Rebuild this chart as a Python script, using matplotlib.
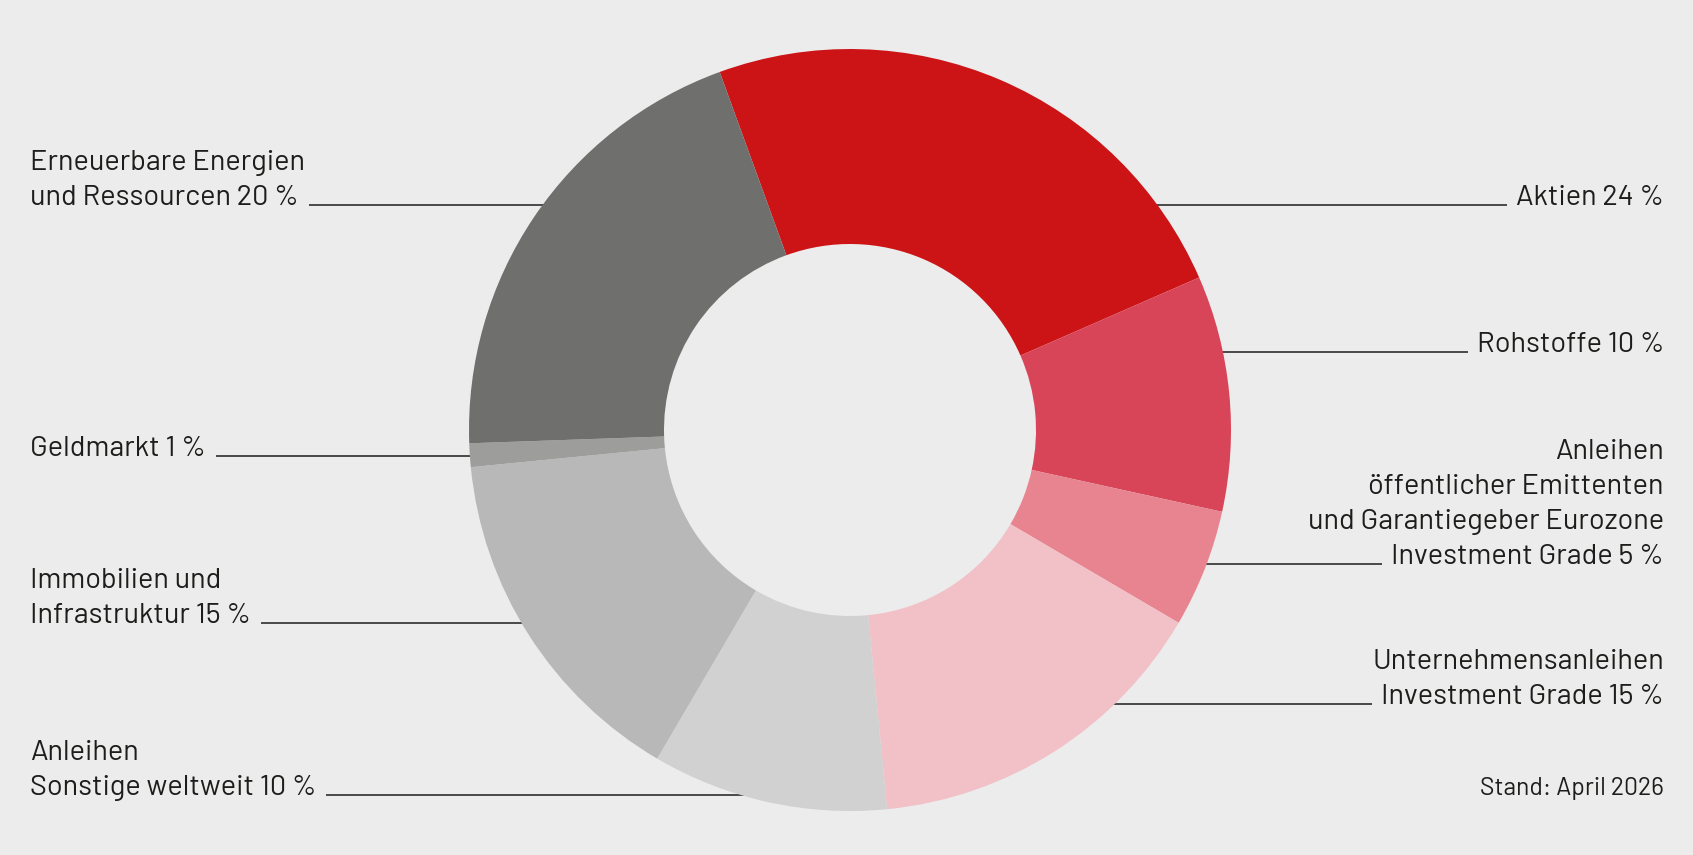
import numpy as np
import matplotlib
matplotlib.use("Agg")
import matplotlib.pyplot as plt

# Anteile, im Uhrzeigersinn ab oben links
labels = [
    "Aktien 24 %",
    "Rohstoffe 10 %",
    "Anleihen\nöffentlicher Emittenten\nund Garantiegeber Eurozone\nInvestment Grade 5 %",
    "Unternehmensanleihen\nInvestment Grade 15 %",
    "Anleihen\nSonstige weltweit 10 %",
    "Immobilien und\nInfrastruktur 15 %",
    "Geldmarkt 1 %",
    "Erneuerbare Energien\nund Ressourcen 20 %",
]
shares = [24, 10, 5, 15, 10, 15, 1, 20]
colors = ["#cc1417", "#d94558", "#e8848f", "#f2c0c7", "#d0d1d0", "#b8b8b8", "#9d9d9c", "#6f6f6e"]
# Lage der Beschriftungen: Seite und Hoehe der letzten Zeile (Pixel von oben)
label_side = ["right", "right", "right", "right", "left", "left", "left", "left"]
label_y = [205, 352, 564, 704, 795, 623, 456, 205]
note = "Stand: April 2026"

W, H = 1693, 855
cx, cy, R, r_in = 850, H - 430, 381, 186
line_gap = 35
txt_color = "#1d1d1b"
family = ["Barlow", "DejaVu Sans"]
font = dict(family=family, fontsize=20.8, color=txt_color)

fig = plt.figure(figsize=(W / 100, H / 100), dpi=100, facecolor="#ececec")
ax = fig.add_axes([0, 0, 1, 1])
ax.pie(shares, colors=colors, startangle=110, counterclock=False,
       center=(cx, cy), radius=R, wedgeprops=dict(width=R - r_in, linewidth=0),
       frame=True)
ax.set_xlim(0, W)
ax.set_ylim(0, H)
ax.set_aspect("equal")
ax.axis("off")

fig.canvas.draw()
renderer = fig.canvas.get_renderer()
inv = ax.transData.inverted()

for lab, side, yt in zip(labels, label_side, label_y):
    y = H - yt
    lines = lab.split("\n")
    x = 30 if side == "left" else W - 29
    ha = side
    edges = []
    for i, ln in enumerate(reversed(lines)):
        t = ax.text(x, y + i * line_gap, ln, ha=ha, va="baseline", **font)
        if i == 0:
            bb = t.get_window_extent(renderer)
            edges = inv.transform([[bb.x0, 0], [bb.x1, 0]])[:, 0]
    # Fuehrungslinie bis zum Aussenrand des Rings
    dy = y - cy
    dx = np.sqrt(max(R ** 2 - dy ** 2, 0))
    if side == "left":
        x0, x1 = edges[1] + 10, cx - dx + 4
    else:
        x0, x1 = edges[0] - 9, cx + dx - 4
    ax.plot([x0, x1], [y, y], color=txt_color, lw=1.1, zorder=0.5, solid_capstyle="butt")

ax.text(W - 29, H - 795, note, ha="right", va="baseline",
        family=family, fontsize=17.8, color=txt_color)

fig.savefig("out.png", dpi=100, facecolor=fig.get_facecolor())
